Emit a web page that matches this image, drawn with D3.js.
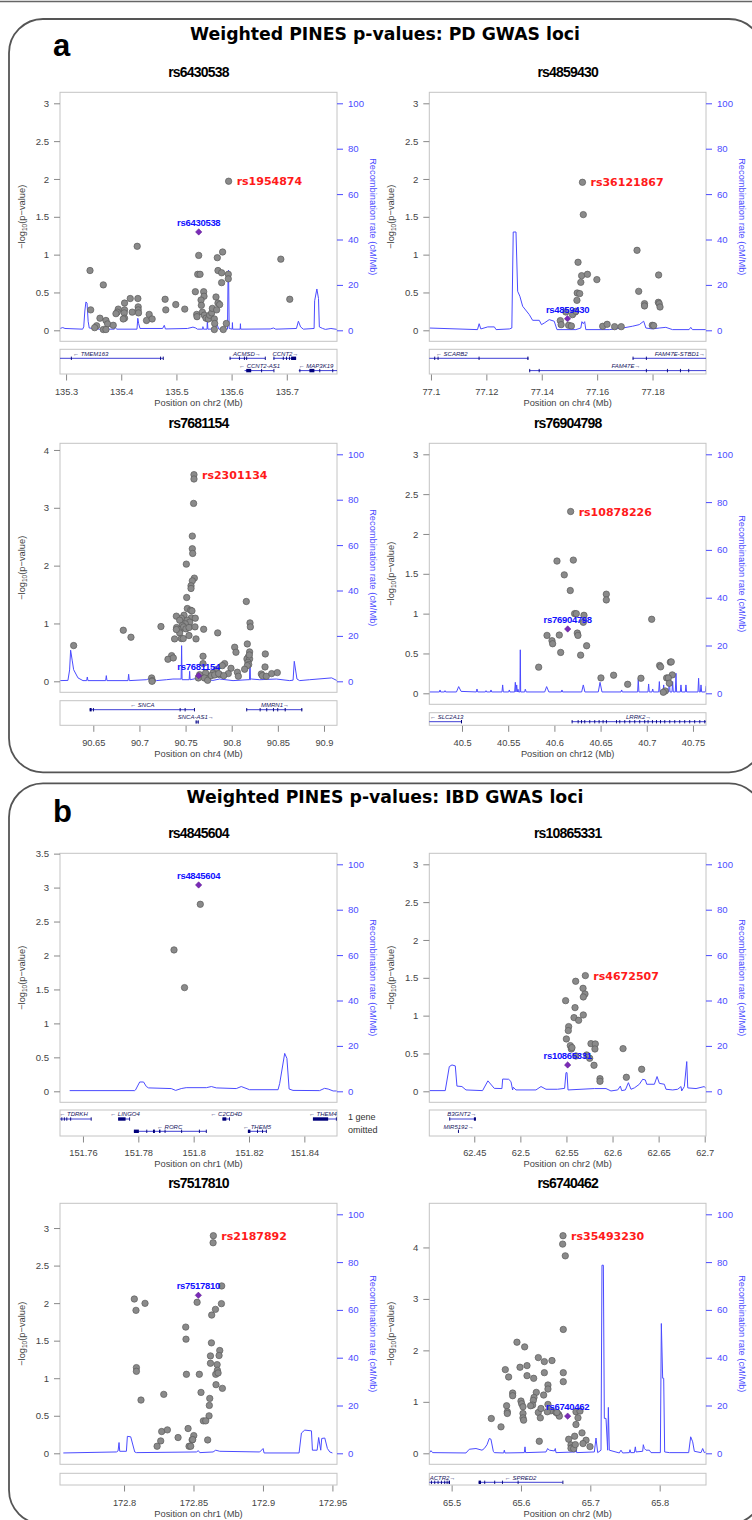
<!DOCTYPE html>
<html>
<head>
<meta charset="utf-8">
<script src="https://cdn.jsdelivr.net/npm/d3@7"></script>
<style>
  body { margin: 0; background: #fff; }
  svg { display: block; font-family: "Liberation Sans", Arial, sans-serif; }
</style>
</head>
<body>
<svg id="fig" width="752" height="1520"></svg>
<script>
// ---- data ----
var titles = ["rs6430538", "rs4859430", "rs7681154", "rs76904798", "rs4845604", "rs10865331", "rs7517810", "rs6740462"];
var chroms = ["chr2", "chr4", "chr4", "chr12", "chr1", "chr2", "chr1", "chr2"];
var xDomains = [[135.289, 135.791], [77.0994, 77.1993], [90.6139, 90.9141], [40.4646, 40.7641],
                [151.7517, 151.8518], [62.4012, 62.7014], [172.7539, 172.9533], [65.4678, 65.8668]];
var xTicks = [[135.3, 135.4, 135.5, 135.6, 135.7], [77.1, 77.12, 77.14, 77.16, 77.18],
              [90.65, 90.7, 90.75, 90.8, 90.85, 90.9], [40.5, 40.55, 40.6, 40.65, 40.7, 40.75],
              [151.76, 151.78, 151.8, 151.82, 151.84], [62.45, 62.5, 62.55, 62.6, 62.65, 62.7],
              [172.8, 172.85, 172.9, 172.95], [65.5, 65.6, 65.7, 65.8]];
var yTop = [3, 3, 3.925, 3, 3.343, 3, 3.183, 4.644];   // -log10 p at the 100 cM/Mb line
var yTicks = [[0, 0.5, 1, 1.5, 2, 2.5, 3], [0, 0.5, 1, 1.5, 2, 2.5, 3], [0, 1, 2, 3, 4],
              [0, 0.5, 1, 1.5, 2, 2.5, 3], [0, 0.5, 1, 1.5, 2, 2.5, 3, 3.5],
              [0, 0.5, 1, 1.5, 2, 2.5, 3], [0, 0.5, 1, 1.5, 2, 2.5, 3], [0, 1, 2, 3, 4]];
var recombTicks = [0, 20, 40, 60, 80, 100];

var indexSnps = [["rs6430538", 135.5404, 1.30], ["rs4859430", 77.1493, 0.154], ["rs7681154", 90.7642, 0.098],
                 ["rs76904798", 40.6144, 0.807], ["rs4845604", 151.8018, 3.039], ["rs10865331", 62.5513, 0.348],
                 ["rs7517810", 172.8535, 2.104], ["rs6740462", 65.6673, 0.722]];
var leadSnps = [["rs1954874", 135.5946, 1.97], ["rs36121867", 77.1547, 1.956], ["rs2301134", 90.7591, 3.573],
                ["rs10878226", 40.6176, 2.282], null, ["rs4672507", 62.5705, 1.529],
                ["rs2187892", 172.8643, 2.898], ["rs35493230", 65.6606, 4.228]];

var snps1 = [[135.3434,0.79],[135.3675,0.60],[135.3446,0.27],[135.3614,0.16],[135.3554,0.06],[135.3518,0.035],[135.3723,0.13],[135.3753,0.084],[135.3855,0.066],[135.3675,0.01],[135.3723,0.01],[135.4289,1.11],[135.4163,0.42],[135.4301,0.42],[135.406,0.36],[135.3946,0.28],[135.3928,0.24],[135.3904,0.22],[135.406,0.27],[135.4054,0.23],[135.406,0.16],[135.4036,0.15],[135.4199,0.24],[135.4307,0.31],[135.4307,0.27],[135.4313,0.23],[135.4458,0.13],[135.4506,0.21],[135.456,0.15],[135.4795,0.41],[135.4807,0.27],[135.4988,0.34],[135.5151,0.28],[135.5343,0.51],[135.5367,0.21],[135.5373,0.18],[135.5404,0.99],[135.5386,0.74],[135.5428,0.74],[135.5494,0.51],[135.55,0.45],[135.5446,0.40],[135.5452,0.33],[135.547,0.24],[135.5506,0.20],[135.5536,0.16],[135.5578,0.15],[135.5602,0.20],[135.5639,0.23],[135.5651,0.29],[135.5717,0.44],[135.5753,0.36],[135.5783,0.34],[135.5729,0.27],[135.5687,0.15],[135.5741,0.96],[135.5837,1.035],[135.5753,0.79],[135.5819,0.76],[135.5819,0.63],[135.594,0.74],[135.594,0.68],[135.5693,0.09],[135.5687,0.01],[135.5849,0.01],[135.5904,0.09],[135.6892,0.94],[135.7054,0.41],[135.5946,1.97]];
var snps2 = [[77.1547,1.956],[77.155,1.529],[77.1531,0.899],[77.1544,0.722],[77.1565,0.740],[77.1541,0.634],[77.1599,0.670],[77.1528,0.493],[77.1537,0.485],[77.1527,0.396],[77.1487,0.242],[77.1521,0.242],[77.1467,0.128],[77.147,0.075],[77.1497,0.066],[77.1507,0.057],[77.1511,0.207],[77.1523,0.251],[77.162,0.053],[77.1636,0.079],[77.1663,0.048],[77.1687,0.048],[77.1744,1.057],[77.175,0.515],[77.1771,0.352],[77.1771,0.322],[77.1822,0.731],[77.1821,0.370],[77.1824,0.352],[77.1827,0.308],[77.1799,0.066],[77.1804,0.062]];
var snps3 = [[90.7591,3.573],[90.7591,3.498],[90.7587,3.076],[90.7573,2.511],[90.7573,2.292],[90.7577,2.211],[90.7508,2.026],[90.7595,1.784],[90.7573,1.737],[90.7559,1.651],[90.7559,1.605],[90.7512,1.449],[90.7519,1.258],[90.7555,1.229],[90.7569,1.218],[90.7562,1.097],[90.7605,1.091],[90.7483,1.143],[90.7454,1.091],[90.74,1.126],[90.7436,1.056],[90.7519,1.056],[90.7544,1.022],[90.7497,0.993],[90.7465,0.964],[90.7403,0.929],[90.7443,0.895],[90.7479,0.941],[90.7504,0.906],[90.7537,0.929],[90.7602,0.941],[90.7696,0.900],[90.7436,0.837],[90.74,0.895],[90.7454,0.739],[90.7475,0.739],[90.7381,0.733],[90.7537,0.791],[90.7613,0.733],[90.7233,0.947],[90.6825,0.883],[90.6908,0.762],[90.7848,0.837],[90.6287,0.618],[90.7349,0.444],[90.7309,0.381],[90.7367,0.404],[90.8158,1.380],[90.8198,1.010],[90.8202,0.941],[90.8032,0.589],[90.8046,0.502],[90.8169,0.646],[90.8194,0.508],[90.818,0.421],[90.8165,0.387],[90.8194,0.387],[90.8176,0.329],[90.8184,0.289],[90.8169,0.271],[90.8191,0.456],[90.8364,0.473],[90.8361,0.248],[90.8321,0.127],[90.8332,0.098],[90.8375,0.087],[90.8433,0.133],[90.8494,0.150],[90.814,0.208],[90.8061,0.156],[90.8072,0.087],[90.7992,0.225],[90.7963,0.133],[90.7923,0.306],[90.7898,0.271],[90.7833,0.202],[90.7869,0.115],[90.7797,0.144],[90.7754,0.087],[90.7717,0.144],[90.7689,0.306],[90.7689,0.433],[90.7652,0.115],[90.7638,0.058],[90.7703,0.058],[90.7739,0.017],[90.7779,0.098],[90.7815,0.110],[90.7858,0.133],[90.7913,0.098],[90.7132,0.058],[90.7139,0.012],[90.7136,0.0]];
var snps4 = [[40.6176,2.282],[40.6028,1.660],[40.6205,1.672],[40.6107,1.487],[40.6172,1.290],[40.6219,1.0],[40.6237,1.0],[40.632,0.979],[40.6313,0.891],[40.6562,1.244],[40.6562,1.172],[40.7053,0.929],[40.592,0.727],[40.5974,0.660],[40.5981,0.622],[40.6053,0.731],[40.6068,0.513],[40.6248,0.756],[40.6255,0.727],[40.6284,0.479],[40.6349,0.597],[40.583,0.328],[40.6504,0.193],[40.6641,0.227],[40.6793,0.113],[40.6937,0.189],[40.7139,0.349],[40.715,0.332],[40.7255,0.391],[40.7265,0.395],[40.7276,0.231],[40.7215,0.193],[40.7233,0.193],[40.7244,0.126],[40.72,0.029],[40.7179,0.013]];
var snps5 = [[151.8024,2.754],[151.7929,2.082],[151.7967,1.527]];
var snps6 = [[62.5705,1.529],[62.56,1.454],[62.568,1.361],[62.5701,1.286],[62.5683,1.247],[62.5491,1.198],[62.5593,1.106],[62.5582,0.974],[62.5632,0.938],[62.5683,1.009],[62.5524,0.855],[62.552,0.802],[62.5499,0.692],[62.5542,0.604],[62.5553,0.559],[62.556,0.577],[62.5766,0.630],[62.5813,0.626],[62.5809,0.559],[62.5752,0.436],[62.5799,0.344],[62.5864,0.167],[62.5864,0.132],[62.6114,0.564],[62.615,0.185],[62.6316,0.291],[62.5603,0.467],[62.5719,0.480]];
var snps7 = [[172.8643,2.898],[172.8641,2.804],[172.8703,2.229],[172.8074,2.055],[172.8151,1.997],[172.8086,1.904],[172.8526,2.011],[172.8701,1.993],[172.8658,1.917],[172.8631,1.841],[172.8444,1.681],[172.8446,1.520],[172.8629,1.471],[172.8689,1.369],[172.8684,1.302],[172.8622,1.297],[172.867,1.181],[172.8622,1.199],[172.8672,1.106],[172.8089,1.141],[172.8089,1.092],[172.8449,1.052],[172.8542,1.052],[172.866,1.052],[172.8677,1.07],[172.8662,0.914],[172.8708,0.865],[172.8122,0.709],[172.8286,0.785],[172.8554,0.811],[172.8617,0.731],[172.8614,0.638],[172.8612,0.499],[172.8571,0.432],[172.8588,0.432],[172.8271,0.290],[172.8312,0.312],[172.8461,0.330],[172.8264,0.165],[172.8238,0.094],[172.8389,0.210],[172.8502,0.236],[172.849,0.178],[172.8494,0.183],[172.8468,0.094],[172.848,0.094],[172.8602,0.178]];
var snps8 = [[65.6606,4.228],[65.6601,4.065],[65.6639,3.837],[65.661,2.407],[65.5942,2.159],[65.6053,2.068],[65.625,1.860],[65.6337,1.782],[65.6447,1.802],[65.5774,1.626],[65.5986,1.672],[65.6087,1.704],[65.5822,1.483],[65.6087,1.509],[65.6183,1.457],[65.6337,1.567],[65.661,1.567],[65.661,1.392],[65.6389,1.327],[65.6389,1.249],[65.6221,1.184],[65.588,1.171],[65.588,1.119],[65.6188,1.086],[65.6327,1.132],[65.6,1.015],[65.601,0.963],[65.6178,1.028],[65.6168,0.937],[65.6029,0.904],[65.6139,0.924],[65.5793,0.924],[65.5803,0.807],[65.5803,0.774],[65.6029,0.774],[65.6029,0.689],[65.6038,0.644],[65.625,0.794],[65.6288,0.871],[65.6279,0.689],[65.6389,0.950],[65.6433,0.826],[65.6505,0.794],[65.6543,0.755],[65.6553,0.722],[65.6519,0.794],[65.638,0.807],[65.6793,0.807],[65.6851,0.820],[65.6822,0.689],[65.6793,0.559],[65.688,0.397],[65.6774,0.332],[65.6688,0.273],[65.6938,0.254],[65.6894,0.189],[65.6995,0.130],[65.6721,0.163],[65.6745,0.111],[65.6721,0.098],[65.676,0.091],[65.6784,0.169],[65.5572,0.676],[65.5712,0.514],[65.6264,0.234]];

var recomb1 = [[135.289,0.8],[135.294,1.2],[135.298,0.8],[135.330,0.5],[135.332,1.5],[135.334,8.5],[135.336,12.5],[135.338,12],[135.340,4],[135.342,1],[135.36,0.5],[135.3875,0.5],[135.389,1.2],[135.392,0.5],[135.4285,0.5],[135.430,5.3],[135.4315,3],[135.434,0.8],[135.475,0.8],[135.478,2.2],[135.480,0.6],[135.52,0.8],[135.530,1.4],[135.535,1.0],[135.538,0.5],[135.5475,0.5],[135.548,1.6],[135.549,0.5],[135.5555,0.5],[135.556,4.7],[135.557,0.5],[135.570,0.6],[135.5735,2.5],[135.577,0.5],[135.5925,0.5],[135.5935,22],[135.5945,26.5],[135.5955,0.8],[135.601,0.5],[135.6015,3.4],[135.602,0.5],[135.6155,0.5],[135.616,2.9],[135.6165,0.5],[135.67,0.6],[135.676,1.0],[135.68,0.5],[135.7175,0.8],[135.721,4.0],[135.725,1.5],[135.73,0.5],[135.7495,0.8],[135.7505,13],[135.7545,18.2],[135.7575,14],[135.759,1.5],[135.765,0.8],[135.77,0.4],[135.78,0.8],[135.791,0.4]];
var recomb2 = [[77.0994,1.0],[77.1168,0.3],[77.1174,2.9],[77.118,0.6],[77.1205,1.5],[77.1229,1.5],[77.1235,0.3],[77.1283,0.6],[77.1292,1.0],[77.1297,43.3],[77.1307,43.3],[77.1313,17.2],[77.1321,15],[77.1331,10.6],[77.1355,6.9],[77.1367,4.4],[77.1391,4.4],[77.1399,2.5],[77.1409,3.2],[77.1427,4.7],[77.1445,4.0],[77.1455,0.3],[77.1523,0.3],[77.1541,1.0],[77.1545,3.8],[77.155,2.9],[77.1555,3.8],[77.1559,0.3],[77.1644,0.3],[77.1692,1.0],[77.1728,1.8],[77.1752,2.5],[77.1768,4.0],[77.1776,1.0],[77.18,0.6],[77.1824,1.0],[77.1848,1.3],[77.1872,0.3],[77.1932,0.3],[77.1938,1.3],[77.1944,0.3],[77.1993,0.3]];
var recomb3 = [[90.6139,0.3],[90.6225,0.4],[90.6243,5],[90.6254,13.7],[90.6272,9],[90.6287,5.1],[90.6334,1.5],[90.6388,0.3],[90.6428,0.3],[90.6435,1.9],[90.6442,0.3],[90.6634,0.3],[90.6641,2.5],[90.6648,0.3],[90.6876,0.3],[90.6883,3.1],[90.689,0.3],[90.7074,0.7],[90.7129,1.5],[90.7183,0.3],[90.7291,0.7],[90.7363,1.0],[90.7452,1.0],[90.7457,15.7],[90.7462,0.7],[90.7472,0.7],[90.7539,0.7],[90.7544,4.4],[90.7549,0.7],[90.7652,1.5],[90.7725,0.7],[90.7797,0.4],[90.7869,1.0],[90.8014,0.3],[90.8176,0.7],[90.8193,0.7],[90.8198,12.8],[90.8203,0.7],[90.8212,1.0],[90.8303,0.7],[90.8483,1.0],[90.8628,0.3],[90.8665,0.5],[90.8678,8.8],[90.8707,1.0],[90.8736,0.3],[90.8845,0.7],[90.9083,1.5],[90.9141,0.3]];
var recomb4 = [[40.4646,0.56],[40.4755,0.56],[40.4762,1.4],[40.4769,0.56],[40.4809,0.56],[40.4816,1.1],[40.4823,0.56],[40.494,0.56],[40.4964,2.8],[40.499,0.8],[40.5155,0.56],[40.5162,1.8],[40.517,0.56],[40.5253,0.56],[40.526,1.1],[40.5267,0.56],[40.5307,0.56],[40.5314,1.4],[40.5321,0.56],[40.5433,0.56],[40.544,3.5],[40.5447,0.56],[40.5505,0.56],[40.5512,1.4],[40.5519,0.56],[40.557,0.56],[40.5577,4.6],[40.5584,0.56],[40.5592,3.5],[40.5599,0.56],[40.5606,1.7],[40.5613,0.56],[40.5627,0.56],[40.5631,18.2],[40.5635,0.56],[40.5678,0.56],[40.5685,1.7],[40.5695,0.56],[40.5895,0.56],[40.5916,2.8],[40.594,0.56],[40.6075,0.56],[40.6082,1.4],[40.6089,0.56],[40.6295,0.56],[40.6313,3.5],[40.633,0.56],[40.6475,0.56],[40.6494,4.6],[40.6515,0.56],[40.6721,0.56],[40.6728,1.4],[40.6735,0.56],[40.6901,0.56],[40.6908,5.9],[40.6915,0.56],[40.7013,0.56],[40.702,3.9],[40.7027,0.56],[40.7057,0.56],[40.7064,1.8],[40.7071,0.56],[40.7129,0.56],[40.7136,4.9],[40.7143,0.56],[40.7176,0.56],[40.7183,3.5],[40.719,0.56],[40.7237,0.56],[40.7244,7.0],[40.7251,0.56],[40.7273,0.56],[40.728,4.9],[40.7287,0.56],[40.7309,0.56],[40.7316,8.4],[40.7323,0.56],[40.7363,0.56],[40.737,3.5],[40.7377,0.56],[40.7417,0.56],[40.7424,3.5],[40.7431,0.56],[40.7554,0.56],[40.7561,6.3],[40.7568,0.56],[40.758,0.56],[40.7587,3.5],[40.7594,0.56],[40.7634,0.56],[40.7641,3.1]];
var recomb5 = [[151.7552,0.3],[151.7787,0.3],[151.779,0.6],[151.7805,4.1],[151.7819,4.1],[151.7829,2.1],[151.7837,1.5],[151.7919,1.2],[151.7935,0.4],[151.7955,1.2],[151.7973,1.6],[151.8046,1.6],[151.8064,2.1],[151.8082,1.5],[151.8154,1.2],[151.8172,2.1],[151.8202,0.7],[151.8305,0.7],[151.8311,3.5],[151.8329,16.7],[151.8337,14.5],[151.8345,1.0],[151.8359,0.4],[151.8455,0.3],[151.8473,1.3],[151.8486,1.0],[151.8504,0.15],[151.8518,0.15]];
var recomb6 = [[62.4012,0.3],[62.4185,0.3],[62.4229,10.9],[62.4258,11.6],[62.4294,11.2],[62.4312,2.3],[62.4366,2.1],[62.441,0.6],[62.459,0.3],[62.4648,4.6],[62.4717,1.3],[62.48,1.2],[62.4808,5.4],[62.4873,5.3],[62.4898,4.3],[62.4916,0.6],[62.4923,1.8],[62.4952,0.6],[62.5169,0.6],[62.5224,2.1],[62.5278,0.9],[62.5404,0.9],[62.548,1.3],[62.5495,8.2],[62.5506,8.2],[62.5517,0.6],[62.5802,1.2],[62.5929,1.2],[62.5983,0.15],[62.6056,0.6],[62.6085,2.3],[62.6099,0.3],[62.6139,0.6],[62.6172,3.8],[62.62,0.9],[62.6237,1.5],[62.6291,3.1],[62.6327,5.3],[62.6356,5.0],[62.6371,3.1],[62.6454,3.1],[62.6483,6.5],[62.6508,3.5],[62.6562,3.1],[62.658,0.9],[62.6653,0.6],[62.6707,0.9],[62.6743,2.1],[62.675,0.15],[62.6779,2.1],[62.6805,13.1],[62.6816,1.5],[62.6906,1.2],[62.6996,2.1],[62.7014,1.2]];
var recomb7 = [[172.7563,0.14],[172.7945,0.56],[172.7957,1.0],[172.7964,4.5],[172.7969,0.84],[172.8017,0.84],[172.8024,7.1],[172.8048,6.9],[172.8077,0.56],[172.8089,0.28],[172.8521,0.56],[172.8535,1.1],[172.8545,0.28],[172.8641,0.56],[172.866,1.3],[172.8689,0.84],[172.8977,0.56],[172.9001,2.0],[172.9008,0.14],[172.926,0.14],[172.9277,8.5],[172.9301,9.7],[172.9349,9.4],[172.9356,1.3],[172.939,1.3],[172.9401,6.6],[172.9416,1.3],[172.9423,6.2],[172.9445,6.4],[172.9464,2.0],[172.9481,0.56],[172.95,0.14]];
var recomb8 = [[65.4678,0.14],[65.4702,1.1],[65.4726,0.28],[65.5207,0.14],[65.5255,1.7],[65.5351,2.0],[65.5438,1.3],[65.5471,2.0],[65.551,3.6],[65.5543,6.2],[65.5567,5.9],[65.5601,0.84],[65.5615,0.28],[65.575,0.14],[65.576,1.3],[65.5769,0.14],[65.6048,0.28],[65.6058,2.7],[65.6067,0.28],[65.6361,0.56],[65.6385,2.0],[65.6409,1.3],[65.6481,1.0],[65.6495,2.0],[65.6505,0.28],[65.6784,0.56],[65.6793,2.7],[65.6803,0.28],[65.7058,0.56],[65.7082,6.4],[65.7106,0.28],[65.7154,1.3],[65.7168,78.7],[65.7188,78.7],[65.7202,14.6],[65.7226,14.6],[65.725,1.3],[65.726,19.2],[65.7274,1.3],[65.7418,0.14],[65.7442,1.3],[65.7466,0.14],[65.7563,0.28],[65.7572,1.5],[65.7582,0.28],[65.7635,0.28],[65.7649,2.7],[65.7659,0.56],[65.7755,0.84],[65.7764,3.6],[65.7779,2.0],[65.7803,1.3],[65.7851,1.3],[65.7875,0.28],[65.801,0.28],[65.8024,54.3],[65.8043,31.4],[65.8058,31.4],[65.8072,0.56],[65.8139,0.28],[65.8418,0.28],[65.8447,6.9],[65.8476,4.8],[65.85,0.84],[65.8596,0.28],[65.862,2.0],[65.8644,0.28],[65.8668,0.56]];

// genes: name, start, end, strand, track, label centre, exons (Mb)
var genes1 = [
  {name: "TMEM163", start: 135.28, end: 135.4759, dir: -1, row: 0, label: 135.3446, exons: [[135.3087,135.3093],[135.4705,135.4711],[135.4753,135.4759]]},
  {name: "ACMSD", start: 135.5964, end: 135.6608, dir: 1, row: 0, label: 135.6277, exons: [[135.5964,135.597],[135.6133,135.6139],[135.6223,135.6229],[135.6265,135.627],[135.6602,135.6608]]},
  {name: "CCNT2", start: 135.6759, end: 135.7169, dir: 1, row: 0, label: 135.6976, exons: [[135.6759,135.6765],[135.6928,135.6934],[135.6988,135.6994],[135.7042,135.7048],[135.7078,135.7169]]},
  {name: "CCNT2-AS1", start: 135.6235, end: 135.6765, dir: -1, row: 1, label: 135.6506, exons: [[135.6265,135.6355],[135.6536,135.6542],[135.6759,135.6765]]},
  {name: "MAP3K19", start: 135.7217, end: 135.80, dir: -1, row: 1, label: 135.753, exons: [[135.7229,135.7235],[135.741,135.75],[135.759,135.7596],[135.7825,135.783]]}];
var genes2 = [
  {name: "SCARB2", start: 77.09, end: 77.1352, dir: -1, row: 0, label: 77.1075, exons: [[77.1012,77.1014],[77.1024,77.1026],[77.1172,77.1174],[77.1348,77.1352]]},
  {name: "FAM47E-STBD1", start: 77.1728, end: 77.21, dir: 1, row: 0, label: 77.1899, exons: [[77.1728,77.173],[77.1776,77.1779]]},
  {name: "FAM47E", start: 77.1355, end: 77.21, dir: 1, row: 1, label: 77.1704, exons: [[77.1355,77.1358],[77.1389,77.1391],[77.1776,77.1779],[77.1852,77.1854],[77.1899,77.1901],[77.1929,77.1931]]}];
var genes3 = [
  {name: "SNCA", start: 90.646, end: 90.7598, dir: -1, row: 0, label: 90.7031, exons: [[90.646,90.6482],[90.6496,90.6499],[90.7436,90.7439],[90.749,90.7493],[90.7591,90.7598]]},
  {name: "SNCA-AS1", start: 90.7609, end: 90.7642, dir: 1, row: 1, label: 90.761, exons: [[90.7609,90.762],[90.7631,90.7642]]},
  {name: "MMRN1", start: 90.8158, end: 90.8765, dir: 1, row: 0, label: 90.8469, exons: [[90.8158,90.8161],[90.8303,90.8306],[90.8375,90.8378],[90.8447,90.845],[90.8494,90.8497],[90.8574,90.8585],[90.8754,90.8765]]}];
var genes4 = [
  {name: "SLC2A13", start: 40.44, end: 40.5, dir: -1, row: 0, label: 40.4834, exons: [[40.4989,40.5]]},
  {name: "LRRK2", start: 40.6187, end: 40.77, dir: 1, row: 0, label: 40.6912, exons: [40.6187,40.6252,40.6288,40.6324,40.6378,40.6432,40.6479,40.6522,40.6558,40.6667,40.6703,40.6757,40.6811,40.6865,40.6919,40.6973,40.7009,40.7056,40.71,40.7143,40.719,40.7244,40.7298,40.7352,40.7406,40.746,40.7514,40.7569,40.7623].map(function(e) { return [e, e + 0.0006]; })}];
var genes5 = [
  {name: "TDRKH", start: 151.745, end: 151.763, dir: -1, row: 0, label: 151.7566, exons: [[151.7522,151.7524],[151.7531,151.7533],[151.754,151.7542],[151.7554,151.7556],[151.7628,151.763]]},
  {name: "LINGO4", start: 151.7727, end: 151.7769, dir: -1, row: 0, label: 151.7752, exons: [[151.7727,151.7754],[151.7767,151.7769]]},
  {name: "RORC", start: 151.7784, end: 151.8046, dir: -1, row: 1, label: 151.7913, exons: [[151.7784,151.7802],[151.7829,151.7831],[151.7853,151.786],[151.7875,151.788],[151.7895,151.7897],[151.7955,151.7957],[151.8019,151.8021],[151.8044,151.8046]]},
  {name: "C2CD4D", start: 151.8104, end: 151.813, dir: -1, row: 0, label: 151.8118, exons: [[151.8104,151.8118],[151.8128,151.813]]},
  {name: "THEM5", start: 151.8196, end: 151.8263, dir: -1, row: 1, label: 151.8229, exons: [[151.8196,151.8205],[151.8229,151.8231],[151.8247,151.8249],[151.8261,151.8263]]},
  {name: "THEM4", start: 151.8431, end: 151.8516, dir: -1, row: 0, label: 151.8467, exons: [[151.8431,151.8486],[151.8514,151.8516]]}];
var genes6 = [
  {name: "B3GNT2", start: 62.4229, end: 62.4518, dir: 1, row: 0, label: 62.4366, exons: [[62.4229,62.4232],[62.4496,62.4518]]},
  {name: "MIR5192", start: 62.4323, end: 62.433, dir: 1, row: 1, label: 62.433, exons: [[62.4323,62.433]]}];
var genes7 = [];
var genes8 = [
  {name: "ACTR2", start: 65.46, end: 65.4976, dir: 1, row: 0, label: 65.487, exons: [[65.4702,65.4706],[65.475,65.4754],[65.4798,65.4802],[65.4846,65.485],[65.4894,65.4898],[65.4928,65.4932],[65.4957,65.4976]]},
  {name: "SPRED2", start: 65.5389, end: 65.6601, dir: -1, row: 0, label: 65.5995, exons: [[65.5389,65.5423],[65.5471,65.5474],[65.5615,65.5618],[65.5726,65.5729],[65.5952,65.5955],[65.6598,65.6601]]}];

var snps = [snps1, snps2, snps3, snps4, snps5, snps6, snps7, snps8];
var recombs = [recomb1, recomb2, recomb3, recomb4, recomb5, recomb6, recomb7, recomb8];
var genes = [genes1, genes2, genes3, genes4, genes5, genes6, genes7, genes8];

// ---- layout ----
var cols = [[60, 337], [429.3, 706]];
var rows = [
  {title: 77.3, top: 92.3, tick: 395, lab: 405.7},
  {title: 428.3, top: 443.3, tick: 746, lab: 756.7},
  {title: 838.3, top: 853.3, tick: 1155.7, lab: 1166.7},
  {title: 1188.3, top: 1203.3, tick: 1506.3, lab: 1516.7}];
// plot bottom, gene box top, gene box bottom
var boxes = [[341.3, 349.3, 374], [341.3, 349.3, 374], [692.3, 700.7, 725.3], [704.3, 712.7, 725.3],
             [1102.3, 1110, 1136], [1102.3, 1110, 1136], [1464.3, 1473.3, 1485], [1464.3, 1473.3, 1485]];

var blue = "#4b4bff", grey = "#444";
var svg = d3.select("#fig");

// outer frames and headings
svg.append("line").attr("x1", 0).attr("x2", 752).attr("y1", 1.5).attr("y2", 1.5)
  .attr("stroke", "#666").attr("stroke-width", 1.5);
[[19, 772.3, "a", 56, "Weighted PINES p-values: PD GWAS loci", 40],
 [783.3, 1524, "b", 821.7, "Weighted PINES p-values: IBD GWAS loci", 803.3]].forEach(function(f) {
  svg.append("rect").attr("x", 9).attr("y", f[0]).attr("width", 754).attr("height", f[1] - f[0])
    .attr("rx", 34).attr("fill", "none").attr("stroke", "#555").attr("stroke-width", 1.8);
  svg.append("text").attr("x", 53).attr("y", f[3]).text(f[2])
    .attr("font-size", 31).attr("font-weight", "bold").attr("fill", "#000");
  svg.append("text").attr("x", 385).attr("y", f[5]).attr("text-anchor", "middle").text(f[4])
    .attr("font-family", "DejaVu Sans").attr("font-size", 17.3).attr("font-weight", "bold");
});

titles.forEach(function(t, i) {
  var c = cols[i % 2], r = rows[Math.floor(i / 2)], b = boxes[i];
  var x0 = c[0], x1 = c[1], y0 = r.top, pb = b[0], g0 = b[1], g1 = b[2];
  var x = d3.scaleLinear().domain(xDomains[i]).range([x0, x1]);
  var y = d3.scaleLinear().domain([0, yTop[i]]).range([pb - 11, y0 + 11]);
  var yr = d3.scaleLinear().domain([0, 100]).range([pb - 11, y0 + 11]);
  var g = svg.append("g");

  g.append("text").attr("x", (x0 + x1) / 2).attr("y", r.title).attr("text-anchor", "middle")
    .attr("font-size", 14).attr("font-weight", "bold").attr("letter-spacing", -0.8).text(t);

  var clipId = "clip" + i;
  svg.append("clipPath").attr("id", clipId).append("rect")
    .attr("x", x0).attr("y", y0).attr("width", x1 - x0).attr("height", pb - y0);
  var gclipId = "gclip" + i;
  svg.append("clipPath").attr("id", gclipId).append("rect")
    .attr("x", x0).attr("y", g0).attr("width", x1 - x0).attr("height", g1 - g0);

  // recombination line
  g.append("path").datum(recombs[i]).attr("clip-path", "url(#" + clipId + ")")
    .attr("d", d3.line().x(function(d) { return x(d[0]); }).y(function(d) { return yr(d[1]); }))
    .attr("fill", "none").attr("stroke", blue).attr("stroke-width", 1);

  // SNPs
  g.append("g").selectAll("circle").data(snps[i]).enter().append("circle")
    .attr("cx", function(d) { return x(d[0]); }).attr("cy", function(d) { return y(d[1]); })
    .attr("r", 3.2).attr("fill", "#8a8a8a").attr("stroke", "#5c5c5c").attr("stroke-width", 0.7);

  // index SNP diamond
  var ix = x(indexSnps[i][1]), iy = y(indexSnps[i][2]);
  g.append("path").attr("d", "M" + ix + "," + (iy - 3.2) + "L" + (ix + 3.2) + "," + iy + "L" + ix + "," + (iy + 3.2) + "L" + (ix - 3.2) + "," + iy + "Z")
    .attr("fill", "#7a2ab8").attr("stroke", "#5a1a8a").attr("stroke-width", 0.5);
  g.append("text").attr("x", ix).attr("y", iy - 6).attr("text-anchor", "middle")
    .attr("font-size", 9.5).attr("font-weight", "bold").attr("letter-spacing", -0.3).attr("fill", "#1010ff").text(indexSnps[i][0]);

  if (leadSnps[i]) {
    g.append("text").attr("x", x(leadSnps[i][1]) + 8).attr("y", y(leadSnps[i][2]) + 4)
      .attr("font-family", "DejaVu Sans").attr("font-size", 11).attr("font-weight", "bold")
      .attr("fill", "#ff1a1a").text(leadSnps[i][0]);
  }

  // plot frame
  g.append("rect").attr("x", x0).attr("y", y0).attr("width", x1 - x0).attr("height", pb - y0)
    .attr("fill", "none").attr("stroke", "#c4c4c4").attr("stroke-width", 1);

  // left axis
  var la = g.append("g").attr("transform", "translate(" + x0 + ",0)")
    .call(d3.axisLeft(y).tickValues(yTicks[i]).tickSize(6).tickPadding(5).tickFormat(d3.format("")));
  la.select(".domain").remove();
  la.selectAll("line").attr("stroke", "#888");
  la.selectAll("text").attr("fill", grey).attr("font-size", 9.6).attr("font-family", "Liberation Sans");

  // right axis
  var ra = g.append("g").attr("transform", "translate(" + x1 + ",0)")
    .call(d3.axisRight(yr).tickValues(recombTicks).tickSize(6).tickPadding(5));
  ra.select(".domain").remove();
  ra.selectAll("line").attr("stroke", blue);
  ra.selectAll("text").attr("fill", blue).attr("font-size", 9.6).attr("font-family", "Liberation Sans");

  // axis titles
  var yl = g.append("text").attr("text-anchor", "middle").attr("fill", grey).attr("font-size", 9.3)
    .attr("transform", "translate(" + (x0 - 35) + "," + ((y0 + pb) / 2) + ") rotate(-90)");
  yl.append("tspan").text("\u2212log");
  yl.append("tspan").attr("font-size", 6.5).attr("dy", 2).text("10");
  yl.append("tspan").attr("dy", -2).text("(p\u2212value)");
  g.append("text").attr("text-anchor", "middle").attr("fill", blue).attr("font-size", 9.3)
    .attr("transform", "translate(" + (x1 + 33) + "," + ((y0 + pb) / 2) + ") rotate(90)")
    .text("Recombination rate (cM/Mb)");

  // gene track
  g.append("rect").attr("x", x0).attr("y", g0).attr("width", x1 - x0).attr("height", g1 - g0)
    .attr("fill", "none").attr("stroke", "#c4c4c4").attr("stroke-width", 1);
  var gt = g.append("g").attr("clip-path", "url(#" + gclipId + ")");
  genes[i].forEach(function(gene) {
    var ly = g0 + 9 + gene.row * 12.3;
    gt.append("line").attr("x1", x(gene.start)).attr("x2", x(gene.end)).attr("y1", ly).attr("y2", ly)
      .attr("stroke", "#2a2ad0").attr("stroke-width", 0.9);
    gene.exons.forEach(function(e) {
      var w = Math.max(0.9, x(e[1]) - x(e[0]));
      gt.append("rect").attr("x", x(e[0])).attr("y", ly - 1.7).attr("width", w).attr("height", 3.4)
        .attr("fill", "#00007a");
    });
    gt.append("text").attr("x", x(gene.label)).attr("y", ly - 2.6).attr("text-anchor", "middle")
      .attr("font-size", 6).attr("font-style", "italic").attr("fill", "#151560")
      .text(gene.dir < 0 ? "\u2190 " + gene.name : gene.name + "\u2192");
  });
  if (i === 4) {
    g.append("text").attr("x", x1 + 11).attr("y", g0 + 9.5).attr("font-size", 9).attr("fill", "#333").text("1 gene");
    g.append("text").attr("x", x1 + 11).attr("y", g0 + 23).attr("font-size", 9).attr("fill", "#333").text("omitted");
  }

  // x axis (ticks only, hanging under the gene box)
  var xa = g.append("g").attr("transform", "translate(0," + (g1 + 0.5) + ")")
    .call(d3.axisBottom(x).tickValues(xTicks[i]).tickSize(6).tickFormat(d3.format("")));
  xa.select(".domain").remove();
  xa.selectAll("line").attr("stroke", "#888");
  xa.selectAll("text").attr("fill", grey).attr("font-size", 9.3).attr("font-family", "Liberation Sans")
    .attr("dy", null).attr("y", r.tick - g1 - 0.5);
  g.append("text").attr("x", (x0 + x1) / 2).attr("y", r.lab).attr("text-anchor", "middle")
    .attr("fill", grey).attr("font-size", 9.3).text("Position on " + chroms[i] + " (Mb)");
});
</script>
</body>
</html>
